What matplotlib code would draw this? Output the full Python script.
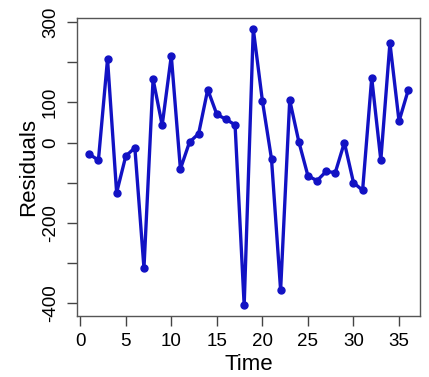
import matplotlib
matplotlib.use("Agg")
import matplotlib.pyplot as plt

plt.rcParams['font.family'] = ['Liberation Sans', 'DejaVu Sans']

time = list(range(1, 37))
residuals = [-29, -44, 208, -125, -34, -13, -313, 158, 43, 216,
             -66, 1, 22, 132, 70, 58, 44, -406, 283, 104,
             -41, -368, 106, 2, -83, -95, -72, -75, 0, -100,
             -119, 161, -44, 248, 53, 130]

xticks = [0, 5, 10, 15, 20, 25, 30, 35]
yticks = [-400, -300, -200, -100, 0, 100, 200, 300]
ylabels = ['-400', '', '-200', '', '0', '100', '', '300']

fig = plt.figure(figsize=(4.29, 3.77), dpi=100)
ax = fig.add_axes([0.1795, 0.162, 0.7995, 0.79])

ax.plot(time, residuals, color='#1212c4', lw=2.4, marker='o', ms=5,
        solid_joinstyle='round')

ax.set_xlim(-0.35, 37.3)
ax.set_ylim(-432, 310)
ax.set_xticks(xticks)
ax.set_yticks(yticks)
ax.set_yticklabels(ylabels, rotation=90, va='center')
ax.tick_params(labelsize=13.5, length=7, width=1, color='#444444')
ax.tick_params(axis='x', pad=5)
ax.tick_params(axis='y', pad=6)
for s in ax.spines.values():
    s.set_color('#555555')
    s.set_linewidth(1)

ax.set_xlabel('Time', fontsize=16, labelpad=3)
ax.set_ylabel('Residuals', fontsize=16, labelpad=2)

fig.savefig('out.png', dpi=100)
